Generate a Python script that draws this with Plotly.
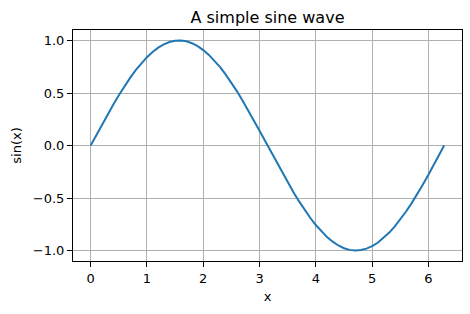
import plotly.graph_objects as go

x_vals = [0.0, 0.1, 0.2, 0.3, 0.4, 0.5, 0.6, 0.7, 0.8, 0.9, 1.0, 1.1, 1.2, 1.3, 1.4, 1.5,
          1.6, 1.7, 1.8, 1.9, 2.0, 2.1, 2.2, 2.3, 2.4, 2.5, 2.6, 2.7, 2.8, 2.9, 3.0, 3.1,
          3.2, 3.3, 3.4, 3.5, 3.6, 3.7, 3.8, 3.9, 4.0, 4.1, 4.2, 4.3, 4.4, 4.5, 4.6, 4.7,
          4.8, 4.9, 5.0, 5.1, 5.2, 5.3, 5.4, 5.5, 5.6, 5.7, 5.8, 5.9, 6.0, 6.1, 6.2, 6.28]
y_vals = [0.000, 0.100, 0.199, 0.296, 0.389, 0.479, 0.565, 0.644, 0.717, 0.783, 0.841, 0.891,
          0.932, 0.964, 0.985, 0.997, 1.000, 0.992, 0.974, 0.946, 0.909, 0.863, 0.808, 0.746,
          0.675, 0.598, 0.516, 0.427, 0.335, 0.239, 0.141, 0.042, -0.058, -0.158, -0.256,
          -0.351, -0.443, -0.530, -0.612, -0.688, -0.757, -0.818, -0.872, -0.916, -0.952,
          -0.978, -0.994, -1.000, -0.996, -0.982, -0.959, -0.926, -0.883, -0.832, -0.773,
          -0.706, -0.631, -0.551, -0.465, -0.374, -0.279, -0.182, -0.083, 0.000]
x_ticks = [0, 1, 2, 3, 4, 5, 6]
y_ticks = [-1.0, -0.5, 0.0, 0.5, 1.0]

fig = go.Figure()
fig.add_trace(go.Scatter(x=x_vals, y=y_vals, mode="lines",
                         line=dict(color="#1f77b4", width=2)))

font = dict(family="DejaVu Sans", size=13, color="black")
axis_common = dict(showline=True, linecolor="black", linewidth=1, mirror=True,
                   ticks="outside", ticklen=5, tickcolor="black", tickwidth=1,
                   showgrid=True, gridcolor="#b0b0b0", gridwidth=1, zeroline=False,
                   tickfont=font)
fig.update_layout(
    width=470, height=314,
    margin=dict(l=73, r=8, t=30, b=53),
    paper_bgcolor="white", plot_bgcolor="white",
    showlegend=False,
    font=font,
    title=dict(text="A simple sine wave", x=0.5, xref="paper", xanchor="center",
               y=1, yref="paper", yanchor="bottom", pad=dict(b=7),
               font=dict(family="DejaVu Sans", size=16, color="black")),
    xaxis=dict(range=[-0.314, 6.597], tickvals=x_ticks,
               title=dict(text="x", font=font, standoff=7), **axis_common),
    yaxis=dict(range=[-1.1, 1.1], tickvals=y_ticks, tickformat=".1f",
               title=dict(text="sin(x)", font=font, standoff=8), **axis_common),
)
fig.write_html("out.html")
